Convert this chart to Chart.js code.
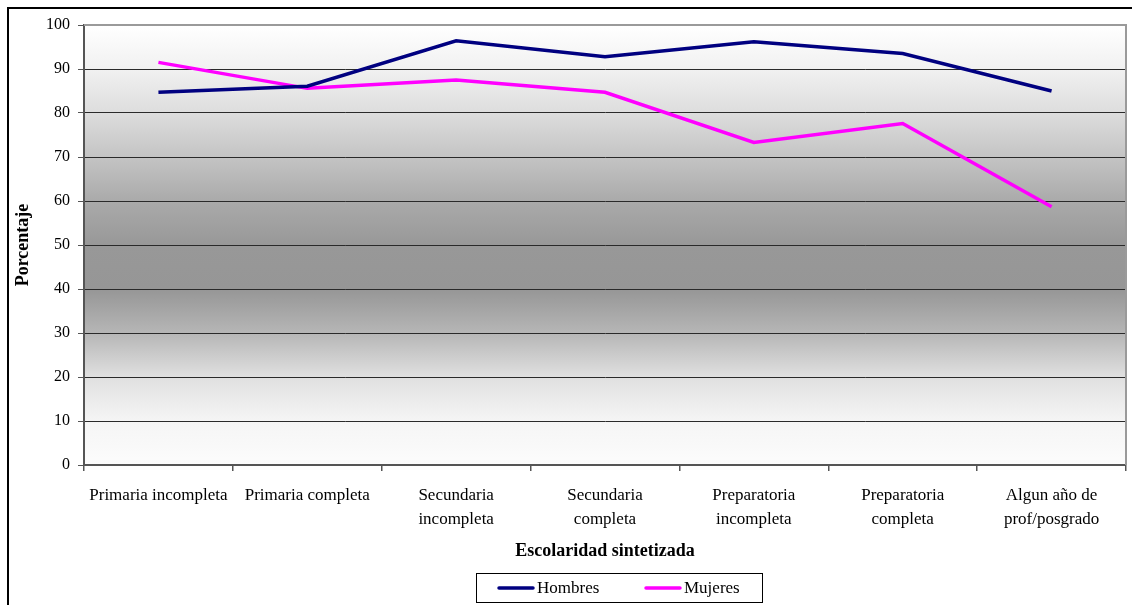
<!DOCTYPE html>
<html>
<head>
<meta charset="utf-8">
<script src="https://cdn.jsdelivr.net/npm/chart.js@4/dist/chart.umd.min.js"></script>
<style>
  html, body { margin: 0; padding: 0; background: #ffffff; }
  #wrap { width: 1132px; height: 605px; position: relative; }
</style>
</head>
<body>
<div id="wrap"><canvas id="chart" width="1132" height="605"></canvas></div>
<script>
// Categories (education level) and percentages per sex
const categories = [
  'Primaria incompleta',
  'Primaria completa',
  ['Secundaria', 'incompleta'],
  ['Secundaria', 'completa'],
  ['Preparatoria', 'incompleta'],
  ['Preparatoria', 'completa'],
  ['Algun año de', 'prof/posgrado']
];
const hombres = [84.7, 86.1, 96.4, 92.8, 96.2, 93.5, 85.0];
const mujeres = [91.5, 85.6, 87.5, 84.7, 73.3, 77.6, 58.7];
const seriesNames = ['Hombres', 'Mujeres'];
const yTicks = [0, 10, 20, 30, 40, 50, 60, 70, 80, 90, 100];

const FONT = '"Liberation Serif", "Times New Roman", serif';

// Gray gradient behind the plot area, outer frame, plot frame and legend
const backdrop = {
  id: 'backdrop',
  beforeDraw(chart) {
    const { ctx, chartArea: a } = chart;
    ctx.save();
    const g = ctx.createLinearGradient(0, a.top, 0, a.bottom);
    g.addColorStop(0.0, '#ffffff');
    g.addColorStop(0.1, '#f1f1f1');
    g.addColorStop(0.2, '#dddddd');
    g.addColorStop(0.3, '#c4c4c4');
    g.addColorStop(0.4, '#aaaaaa');
    g.addColorStop(0.5, '#989898');
    g.addColorStop(0.6, '#969696');
    g.addColorStop(0.7, '#b6b6b6');
    g.addColorStop(0.8, '#e0e0e0');
    g.addColorStop(0.9, '#f5f5f5');
    g.addColorStop(1.0, '#fcfcfc');
    ctx.fillStyle = g;
    ctx.fillRect(a.left, a.top, a.right - a.left, a.bottom - a.top);
    ctx.restore();
  },
  beforeDatasetsDraw(chart) {
    const { ctx, chartArea: a } = chart;
    ctx.save();
    ctx.strokeStyle = '#9a9a9a';
    ctx.lineWidth = 2;
    ctx.beginPath();
    ctx.moveTo(a.left, a.top);
    ctx.lineTo(a.right, a.top);
    ctx.lineTo(a.right, a.bottom);
    ctx.stroke();
    ctx.restore();
  },
  afterDraw(chart) {
    const { ctx } = chart;
    ctx.save();
    // outer chart border
    ctx.strokeStyle = '#000000';
    ctx.lineWidth = 2;
    ctx.strokeRect(8, 8, 1140, 620);

    // legend box
    const bx = 476, by = 573, bw = 286, bh = 29;
    ctx.fillStyle = '#ffffff';
    ctx.fillRect(bx, by, bw, bh);
    ctx.lineWidth = 1;
    ctx.strokeStyle = '#000000';
    ctx.strokeRect(bx + 0.5, by + 0.5, bw, bh);
    const cy = by + bh / 2 + 0.5;
    const items = [{ x: 499 }, { x: 646 }];
    ctx.font = '17px ' + FONT;
    ctx.textBaseline = 'middle';
    chart.data.datasets.forEach((ds, i) => {
      const x = items[i].x;
      ctx.strokeStyle = ds.borderColor;
      ctx.lineWidth = 3.5;
      ctx.lineCap = 'round';
      ctx.beginPath();
      ctx.moveTo(x, cy);
      ctx.lineTo(x + 34, cy);
      ctx.stroke();
      ctx.fillStyle = '#000000';
      ctx.fillText(ds.label, x + 38, cy + 1);
    });
    ctx.restore();
  }
};

new Chart(document.getElementById('chart'), {
  type: 'line',
  data: {
    labels: categories,
    datasets: [
      { label: seriesNames[0], data: hombres, borderColor: '#000080', backgroundColor: '#000080',
        borderWidth: 3.5, pointRadius: 0, tension: 0, fill: false },
      { label: seriesNames[1], data: mujeres, borderColor: '#ff00ff', backgroundColor: '#ff00ff',
        borderWidth: 3.5, pointRadius: 0, tension: 0, fill: false }
    ]
  },
  plugins: [backdrop],
  options: {
    responsive: false,
    animation: false,
    devicePixelRatio: 1,
    layout: { padding: { top: 25, right: 6, left: 0, bottom: 0 } },
    plugins: {
      legend: { display: false },
      tooltip: { enabled: false }
    },
    scales: {
      x: {
        type: 'category',
        offset: true,
        afterFit(scale) { scale.height = 140; },
        grid: {
          offset: true,
          drawOnChartArea: false,
          tickLength: 6,
          tickColor: '#555555',
          lineWidth: 1.5
        },
        border: { display: true, color: '#555555', width: 2 },
        ticks: {
          autoSkip: false,
          maxRotation: 0,
          minRotation: 0,
          padding: 12,
          color: '#000000',
          font: { family: FONT, size: 17, lineHeight: 1.42 }
        },
        title: {
          display: true,
          text: 'Escolaridad sintetizada',
          color: '#000000',
          font: { family: FONT, size: 18, weight: 'bold' },
          padding: { top: 0, bottom: 43 }
        }
      },
      y: {
        min: 0,
        max: 100,
        afterFit(scale) { scale.width = 84; },
        afterBuildTicks(scale) { scale.ticks = yTicks.map(v => ({ value: v })); },
        grid: {
          color: '#2a2a2a',
          lineWidth: 1,
          tickLength: 6,
          tickColor: '#555555'
        },
        border: { display: true, color: '#555555', width: 2 },
        ticks: {
          padding: 8,
          color: '#000000',
          font: { family: FONT, size: 16 }
        },
        title: {
          display: true,
          text: 'Porcentaje',
          color: '#000000',
          font: { family: FONT, size: 18, weight: 'bold' },
          padding: { top: 13, bottom: 0 }
        }
      }
    }
  }
});
</script>
</body>
</html>
